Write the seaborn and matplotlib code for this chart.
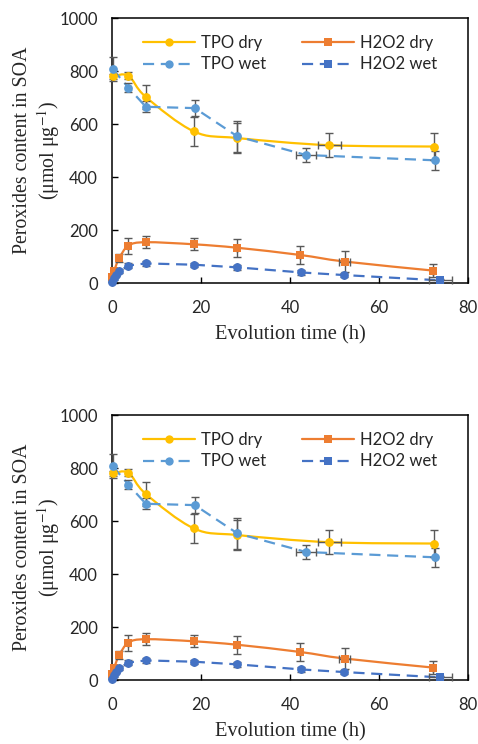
import numpy as np
import matplotlib
matplotlib.use("Agg")
import matplotlib.pyplot as plt
from matplotlib.path import Path
from matplotlib.patches import PathPatch
from matplotlib.lines import Line2D
import seaborn as sns

# values (time in h, peroxides in umol/ug)
tpo_dry_t = [0.2, 3.7, 7.6, 18.4, 28.2, 48.8, 72.3]
tpo_dry_y = [780, 782, 702, 572, 547, 520, 515]
tpo_dry_yerr = [10, 13, 44, 55, 55, 45, 50]
tpo_dry_xerr = [0, 0, 0, 0, 0, 2.6, 0]

tpo_wet_t = [0.2, 3.7, 7.6, 18.6, 28.2, 43.6, 72.6]
tpo_wet_y = [806, 737, 665, 660, 553, 483, 463]
tpo_wet_yerr = [45, 17, 20, 31, 57, 28, 35]
tpo_wet_xerr = [0, 0, 0, 0, 0, 2.3, 0]

h2o2_dry_t = [0.1, 0.5, 1.6, 3.7, 7.6, 18.5, 28.2, 42.2, 52.3, 72.1]
h2o2_dry_y = [22, 47, 93, 141, 154, 146, 133, 106, 81, 47]
h2o2_dry_yerr = [5, 8, 15, 30, 23, 22, 33, 33, 38, 25]
h2o2_dry_xerr = [0, 0, 0, 0, 0, 0, 0, 0, 1.2, 0]

h2o2_wet_t = [0.1, 0.5, 0.9, 1.6, 3.7, 7.6, 18.5, 28.2, 42.4, 52.2, 73.8]
h2o2_wet_y = [5, 18, 30, 44, 66, 74, 69, 59, 40, 30, 10]
h2o2_wet_yerr = [3, 5, 5, 8, 10, 8, 8, 8, 8, 8, 5]
h2o2_wet_xerr = [0, 0, 0, 0, 0, 0, 0, 0, 0, 0, 2.5]

x_ticks = [0, 20, 40, 60, 80]
y_ticks = [0, 200, 400, 600, 800, 1000]

c_tpo_dry = "#FFC000"
c_tpo_wet = "#5B9BD5"
c_h2o2_dry = "#ED7D31"
c_h2o2_wet = "#4472C4"
c_err = "#595959"

sns.set_style("ticks")
plt.rcParams["font.family"] = ["Lato", "DejaVu Sans"]
plt.rcParams["mathtext.fontset"] = "stix"
serif = ["Liberation Serif", "DejaVu Serif"]
dash = (0, (5, 3))


def smooth_path(x, y):
    # excel style smoothed line, catmull-rom segments as cubic beziers
    x = np.asarray(x, float)
    y = np.asarray(y, float)
    n = len(x)
    verts = [(x[0], y[0])]
    codes = [Path.MOVETO]
    for i in range(n - 1):
        a = max(i - 1, 0)
        d = min(i + 2, n - 1)
        c1 = (x[i] + (x[i + 1] - x[a]) / 6, y[i] + (y[i + 1] - y[a]) / 6)
        c2 = (x[i + 1] - (x[d] - x[i]) / 6, y[i + 1] - (y[d] - y[i]) / 6)
        verts += [c1, c2, (x[i + 1], y[i + 1])]
        codes += [Path.CURVE4] * 3
    return Path(verts, codes)


def panel(ax):
    # dry series: smoothed solid lines
    for t, v, c in [(tpo_dry_t, tpo_dry_y, c_tpo_dry), (h2o2_dry_t, h2o2_dry_y, c_h2o2_dry)]:
        ax.add_patch(PathPatch(smooth_path(t, v), facecolor="none", edgecolor=c, lw=1.6, zorder=2))
    # wet series: straight dashed lines
    sns.lineplot(x=tpo_wet_t, y=tpo_wet_y, ax=ax, color=c_tpo_wet, lw=1.6, linestyle=dash, zorder=2)
    sns.lineplot(x=h2o2_wet_t, y=h2o2_wet_y, ax=ax, color=c_h2o2_wet, lw=1.6, linestyle=dash, zorder=2)

    # error bars
    for t, v, ye, xe in [(tpo_dry_t, tpo_dry_y, tpo_dry_yerr, tpo_dry_xerr),
                         (tpo_wet_t, tpo_wet_y, tpo_wet_yerr, tpo_wet_xerr),
                         (h2o2_dry_t, h2o2_dry_y, h2o2_dry_yerr, h2o2_dry_xerr),
                         (h2o2_wet_t, h2o2_wet_y, h2o2_wet_yerr, h2o2_wet_xerr)]:
        ax.errorbar(t, v, yerr=ye, xerr=xe, fmt="none", ecolor=c_err, elinewidth=1.0,
                    capsize=3.2, capthick=1.0, zorder=3, clip_on=False)

    # markers
    kw = dict(ax=ax, s=40, linewidth=0, zorder=5, clip_on=False, legend=False)
    sns.scatterplot(x=tpo_dry_t, y=tpo_dry_y, color=c_tpo_dry, marker="o", **kw)
    sns.scatterplot(x=tpo_wet_t, y=tpo_wet_y, color=c_tpo_wet, marker="o", **kw)
    sns.scatterplot(x=h2o2_dry_t, y=h2o2_dry_y, color=c_h2o2_dry, marker="s", **kw)
    sns.scatterplot(x=h2o2_wet_t[:-1], y=h2o2_wet_y[:-1], color=c_h2o2_wet, marker="o", **kw)
    sns.scatterplot(x=h2o2_wet_t[-1:], y=h2o2_wet_y[-1:], color=c_h2o2_wet, marker="s", **kw)

    ax.set_xlim(0, 80)
    ax.set_ylim(0, 1000)
    ax.set_xticks(x_ticks)
    ax.set_yticks(y_ticks)
    ax.tick_params(axis="both", direction="in", length=4, width=1, labelsize=12, color="black")
    ax.tick_params(axis="x", pad=12)
    ax.tick_params(axis="y", pad=10)
    for s in ax.spines.values():
        s.set_visible(True)
        s.set_color("black")
        s.set_linewidth(1.1)
    ax.set_xlabel("Evolution time (h)", family=serif, fontsize=14.8, labelpad=7)
    ax.set_ylabel("Peroxides content in SOA\n(\u03bcmol \u03bcg$^{\\mathrm{-1}}$)",
                  family=serif, fontsize=14.3, labelpad=-1.5, linespacing=1.15)

    handles = [
        Line2D([], [], color=c_tpo_dry, lw=1.6, marker="o", markersize=6, markeredgewidth=0),
        Line2D([], [], color=c_tpo_wet, lw=1.6, ls=dash, marker="o", markersize=6, markeredgewidth=0),
        Line2D([], [], color=c_h2o2_dry, lw=1.6, marker="s", markersize=5.5, markeredgewidth=0),
        Line2D([], [], color=c_h2o2_wet, lw=1.6, ls=dash, marker="s", markersize=5.5, markeredgewidth=0),
    ]
    labels = ["TPO dry", "TPO wet", "H2O2 dry", "H2O2 wet"]
    ax.legend(handles, labels, ncol=2, frameon=False, fontsize=12, loc="upper center",
              bbox_to_anchor=(0.5, 0.975), handlelength=3.1, handletextpad=0.35,
              columnspacing=2.2, labelspacing=0.35, borderaxespad=0.2)


fig = plt.figure(figsize=(4.78, 7.44), dpi=100)
ax1 = fig.add_axes([0.2343, 0.6196, 0.7448, 0.3562])
ax2 = fig.add_axes([0.2343, 0.0860, 0.7448, 0.3562])
panel(ax1)
panel(ax2)
fig.savefig("out.png", dpi=100)
